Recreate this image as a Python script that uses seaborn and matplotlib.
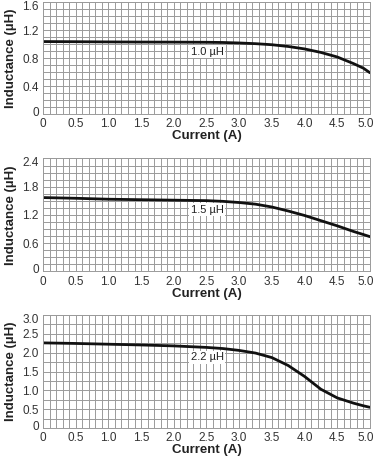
import numpy as np
import pandas as pd
import matplotlib
matplotlib.use("Agg")
import matplotlib.pyplot as plt
import matplotlib.transforms as mtransforms
import seaborn as sns

# Data
current = [0.0, 0.5, 1.0, 1.5, 2.0, 2.5, 2.75, 3.0, 3.25, 3.5, 3.75, 4.0, 4.25, 4.5, 4.75, 4.9, 5.0]
ind_1_0 = [1.035, 1.033, 1.03, 1.028, 1.027, 1.025, 1.022, 1.015, 1.005, 0.99, 0.965, 0.93, 0.88, 0.815, 0.72, 0.655, 0.59]
ind_1_5 = [1.57, 1.555, 1.535, 1.525, 1.515, 1.505, 1.49, 1.465, 1.43, 1.37, 1.285, 1.19, 1.08, 0.97, 0.85, 0.785, 0.74]
ind_2_2 = [2.26, 2.245, 2.225, 2.205, 2.18, 2.14, 2.11, 2.06, 1.99, 1.87, 1.66, 1.37, 1.03, 0.80, 0.66, 0.59, 0.55]

labels = ["1.0 µH", "1.5 µH", "2.2 µH"]
ymax = [1.6, 2.4, 3.0]
ymajor = [0.4, 0.6, 0.5]
yminor = [0.1, 0.15, 0.25]
label_pos = [(2.51, 0.89), (2.51, 1.31), (2.51, 1.88)]
xticks = [0, 0.5, 1.0, 1.5, 2.0, 2.5, 3.0, 3.5, 4.0, 4.5, 5.0]
xticklabels = ["0", "0.5", "1.0", "1.5", "2.0", "2.5", "3.0", "3.5", "4.0", "4.5", "5.0"]

sns.set_style("white")
plt.rcParams['font.family'] = ['Liberation Sans', 'DejaVu Sans']

fig = plt.figure(figsize=(3.74, 4.59), dpi=100)
axes_rects = [
    [0.115, 0.7516, 0.874, 0.244],
    [0.115, 0.4085, 0.874, 0.2462],
    [0.115, 0.0675, 0.874, 0.2462],
]
series = [ind_1_0, ind_1_5, ind_2_2]
grid_color = "#9a9a9a"


def shift(label, dx_px, dy_px):
    label.set_transform(label.get_transform() +
                        mtransforms.ScaledTranslation(dx_px / 100, dy_px / 100, fig.dpi_scale_trans))


for i in range(3):
    ax = fig.add_axes(axes_rects[i])
    df = pd.DataFrame({"Current": current, "L": series[i]})
    sns.lineplot(data=df, x="Current", y="L", ax=ax, color="#111111", linewidth=2.0)
    for ln in ax.get_lines():
        ln.set_solid_joinstyle("round")
    ax.set_xlim(0, 5.0)
    ax.set_ylim(0, ymax[i])
    ax.set_xticks(xticks)
    ax.set_xticklabels(xticklabels)
    ax.set_xticks(np.arange(0, 5.0001, 0.1), minor=True)
    yt = np.arange(0, ymax[i] + 1e-6, ymajor[i])
    ax.set_yticks(yt)
    ax.set_yticklabels(["0"] + ["{:.1f}".format(v) for v in yt[1:]])
    ax.set_yticks(np.arange(0, ymax[i] + 1e-6, yminor[i]), minor=True)
    ax.grid(True, which="both", color=grid_color, linewidth=0.7)
    ax.set_axisbelow(True)
    for s in ax.spines.values():
        s.set_color(grid_color)
        s.set_linewidth(0.7)
    ax.tick_params(which="both", length=0, labelsize=8.5, colors="#333333", pad=3)
    ax.set_xlabel("Current (A)", fontsize=9.5, fontweight="bold", color="#222222", labelpad=0)
    ax.set_ylabel("Inductance (µH)", fontsize=9.5, fontweight="bold", color="#222222", labelpad=4)
    ax.text(label_pos[i][0], label_pos[i][1], labels[i], fontsize=8, color="#222222",
            ha="center", va="center",
            bbox=dict(facecolor="white", edgecolor="none", pad=1.2))
    # nudge edge tick labels inward like the reference
    xl = ax.get_xticklabels()
    shift(xl[-1], -4, 0)
    yl = ax.get_yticklabels()
    shift(yl[-1], 0, -3)
    shift(yl[0], 0, 3)

fig.savefig("out.png", dpi=100)
